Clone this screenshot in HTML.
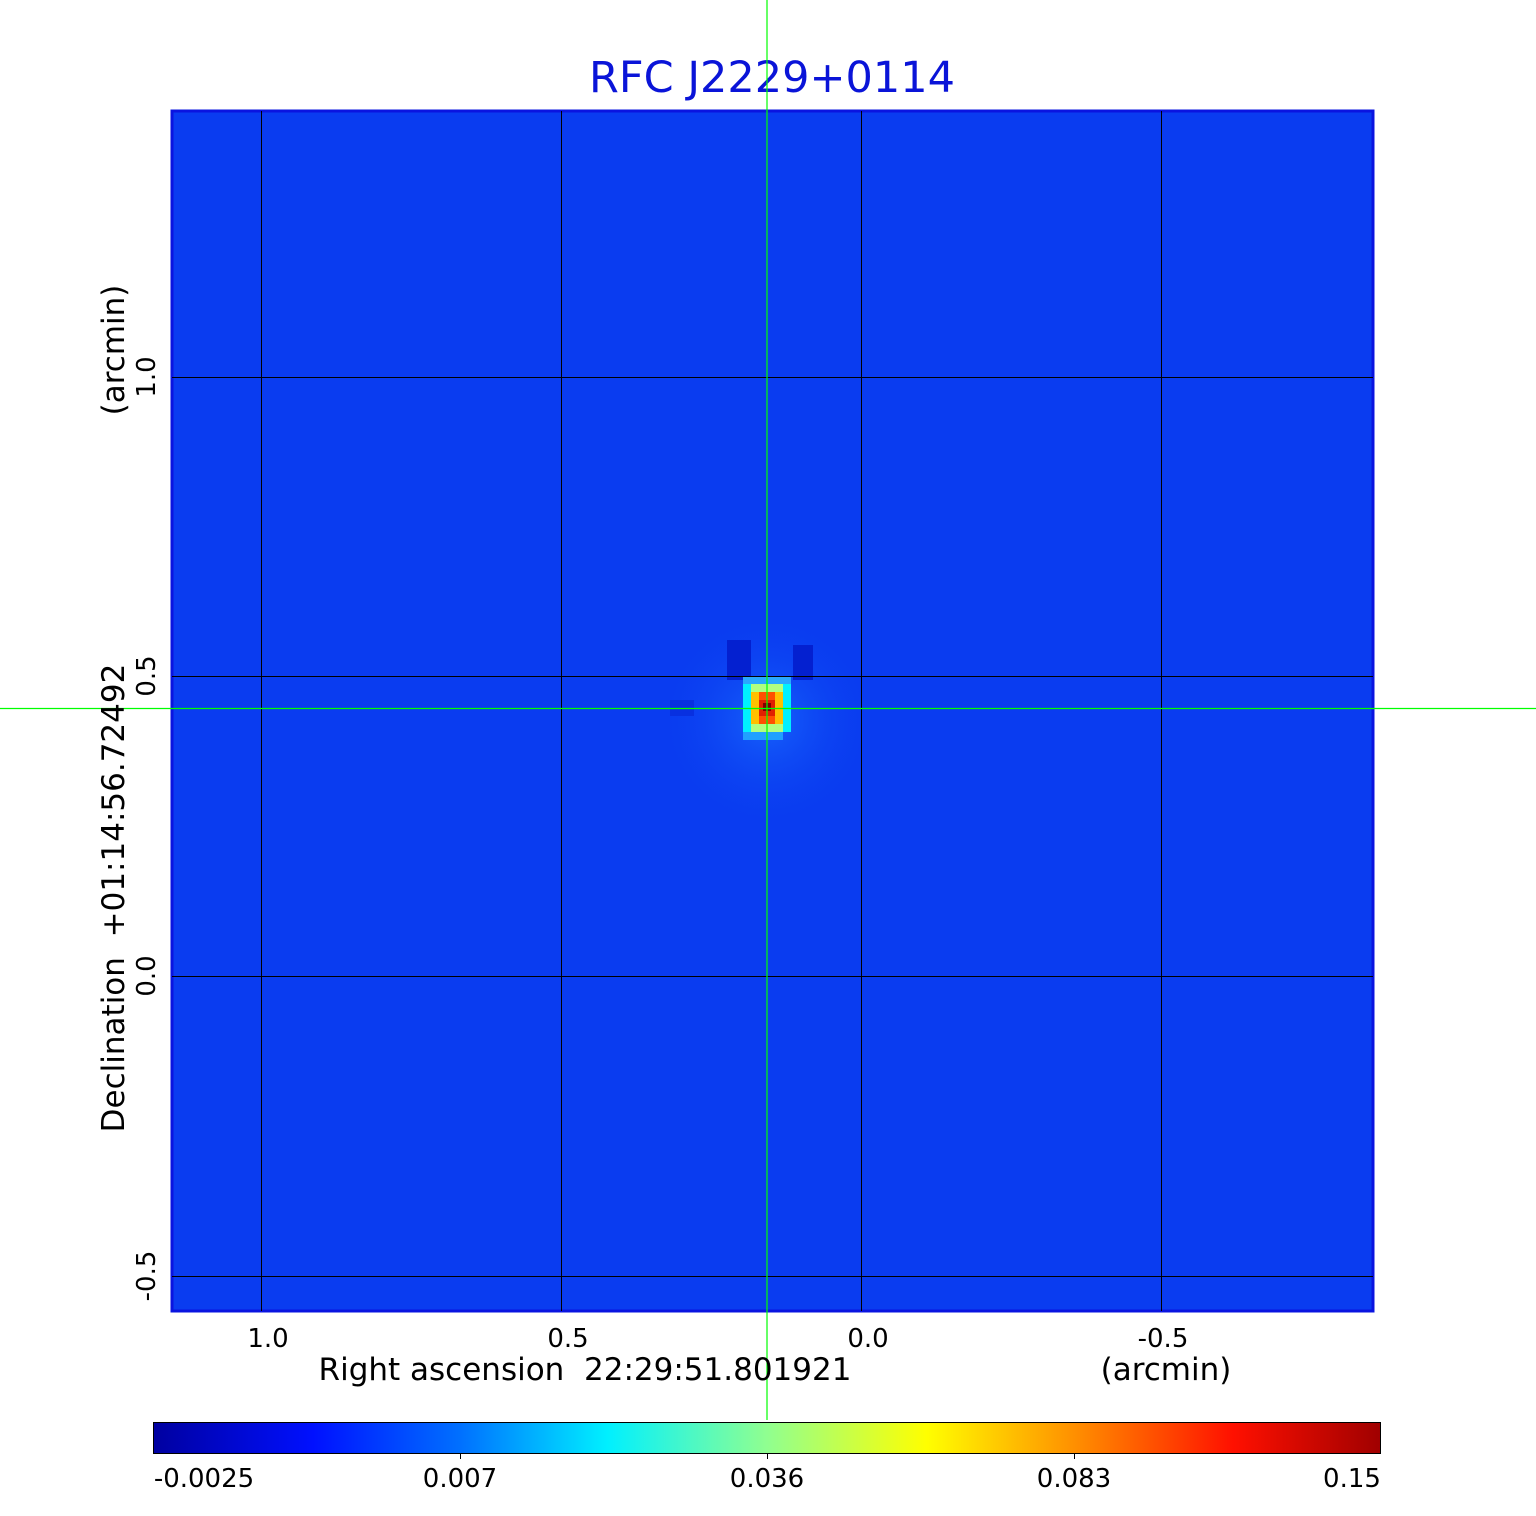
<!DOCTYPE html>
<html><head><style>
body{margin:0;background:#fff;width:1536px;height:1511px;overflow:hidden}
text{font-family:"DejaVu Sans","Liberation Sans",sans-serif}
</style></head><body>
<svg width="1536" height="1511" xmlns="http://www.w3.org/2000/svg">
<defs>
<linearGradient id="jet" x1="0" x2="1" y1="0" y2="0">
<stop offset="0" stop-color="#0000a0"/>
<stop offset="0.13" stop-color="#0010ff"/>
<stop offset="0.25" stop-color="#0070ff"/>
<stop offset="0.37" stop-color="#00f0ff"/>
<stop offset="0.5" stop-color="#90ff90"/>
<stop offset="0.63" stop-color="#ffff00"/>
<stop offset="0.75" stop-color="#ff9000"/>
<stop offset="0.88" stop-color="#ff1000"/>
<stop offset="1" stop-color="#a00000"/>
</linearGradient>
<radialGradient id="glow" cx="0.5" cy="0.5" r="0.5">
<stop offset="0" stop-color="#1a6cff" stop-opacity="0.8"/>
<stop offset="1" stop-color="#0a3cf0" stop-opacity="0"/>
</radialGradient>
</defs>
<text x="772" y="92" font-size="43" fill="#0a14d8" text-anchor="middle">RFC J2229+0114</text>
<rect x="172" y="111" width="1201" height="1200" fill="#0a3cf0" stroke="#0a14e0" stroke-width="3"/>
<circle cx="767" cy="720" r="110" fill="url(#glow)"/>
<rect x="727" y="640" width="24" height="40" fill="#0420d0"/>
<rect x="793" y="645" width="20" height="35" fill="#0420d0"/>
<rect x="670" y="700" width="24" height="16" fill="#0830e0"/>
<rect x="743" y="676" width="48" height="8" fill="#2aa8ff"/>
<rect x="743" y="684" width="48" height="48" fill="#00f0ff"/>
<rect x="751" y="684" width="32" height="48" fill="#b0ff80"/>
<rect x="751" y="692" width="32" height="32" fill="#ffc000"/>
<rect x="759" y="692" width="16" height="32" fill="#ff5000"/>
<rect x="759" y="700" width="16" height="16" fill="#e02000"/>
<rect x="763" y="703" width="8" height="8" fill="#800000"/>
<rect x="743" y="732" width="40" height="8" fill="#20a0ff"/>
<g stroke="#000" stroke-width="1">
<line x1="261.5" y1="111" x2="261.5" y2="1311"/>
<line x1="561.5" y1="111" x2="561.5" y2="1311"/>
<line x1="861.5" y1="111" x2="861.5" y2="1311"/>
<line x1="1161.5" y1="111" x2="1161.5" y2="1311"/>
<line x1="172" y1="377.5" x2="1373" y2="377.5"/>
<line x1="172" y1="676.5" x2="1373" y2="676.5"/>
<line x1="172" y1="976.5" x2="1373" y2="976.5"/>
<line x1="172" y1="1276.5" x2="1373" y2="1276.5"/>
</g>
<g stroke="#00ff00" stroke-width="1.2">
<line x1="767" y1="0" x2="767" y2="1420"/>
<line x1="0" y1="708.5" x2="1536" y2="708.5"/>
</g>
<g font-size="26" fill="#000" text-anchor="middle">
<text x="268" y="1347">1.0</text>
<text x="568" y="1347">0.5</text>
<text x="868" y="1347">0.0</text>
<text x="1163" y="1347">-0.5</text>
<text x="585" y="1380" font-size="31">Right ascension&#160;&#160;22:29:51.801921</text>
<text x="1166" y="1380" font-size="31">(arcmin)</text>
</g>
<g font-size="26" fill="#000" text-anchor="middle">
<text transform="translate(155,377) rotate(-90)">1.0</text>
<text transform="translate(155,676) rotate(-90)">0.5</text>
<text transform="translate(155,976) rotate(-90)">0.0</text>
<text transform="translate(155,1276) rotate(-90)">-0.5</text>
<text font-size="31" transform="translate(124,350) rotate(-90)">(arcmin)</text>
<text font-size="31" transform="translate(124,898) rotate(-90)">Declination&#160;&#160;+01:14:56.72492</text>
</g>
<rect x="153.5" y="1422.5" width="1227" height="31" fill="url(#jet)" stroke="#000" stroke-width="1"/>
<g stroke="#000"><line x1="460.5" y1="1453" x2="460.5" y2="1459"/><line x1="767.5" y1="1453" x2="767.5" y2="1459"/><line x1="1074.5" y1="1453" x2="1074.5" y2="1459"/></g>
<g font-size="26" fill="#000" text-anchor="middle">
<text x="204" y="1487">-0.0025</text>
<text x="460" y="1487">0.007</text>
<text x="767" y="1487">0.036</text>
<text x="1074" y="1487">0.083</text>
<text x="1352" y="1487">0.15</text>
</g>
</svg>
</body></html>
